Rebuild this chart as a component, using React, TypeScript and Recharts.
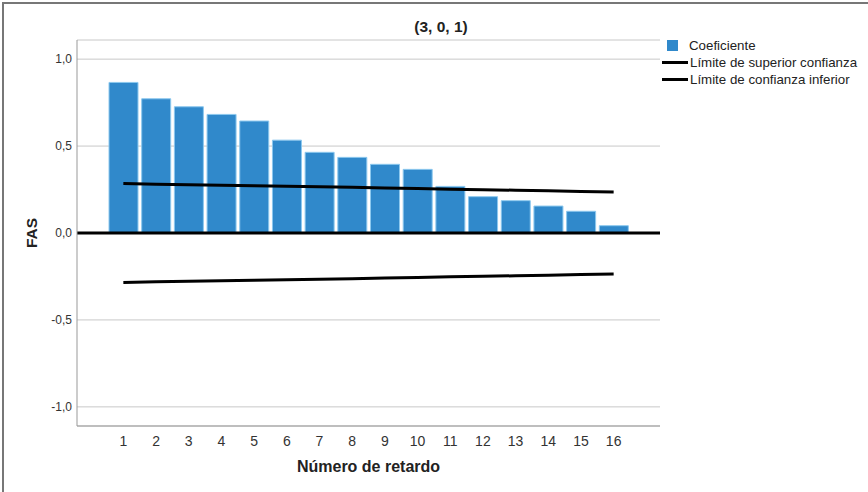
import React from "react";
import {
  ComposedChart,
  Bar,
  Line,
  XAxis,
  YAxis,
  CartesianGrid,
  ReferenceLine,
} from "recharts";

const lags = ["1", "2", "3", "4", "5", "6", "7", "8", "9", "10", "11", "12", "13", "14", "15", "16"];
const coef = [0.866, 0.772, 0.726, 0.682, 0.644, 0.534, 0.464, 0.435, 0.395, 0.366, 0.268, 0.209, 0.186, 0.155, 0.125, 0.042];
const upper = [0.284, 0.281, 0.278, 0.275, 0.272, 0.269, 0.266, 0.263, 0.259, 0.256, 0.252, 0.249, 0.246, 0.243, 0.239, 0.236];
const lower = [-0.284, -0.281, -0.278, -0.275, -0.272, -0.269, -0.266, -0.263, -0.259, -0.256, -0.252, -0.249, -0.246, -0.243, -0.239, -0.236];
const yTicks = [-1, -0.5, 0, 0.5, 1];

const data = lags.map((lag, i) => ({ lag, coef: coef[i], upper: upper[i], lower: lower[i] }));

const FONT = '"Liberation Sans", Arial, sans-serif';

const fmt = (v: number) => v.toFixed(1).replace(".", ",");

export default function App() {
  return (
    <div style={{ position: "absolute", left: 0, top: 0, width: 868, height: 492, background: "#fff", fontFamily: FONT }}>
      <div
        style={{
          position: "absolute",
          left: 2,
          top: 2,
          width: 866,
          height: 490,
          borderLeft: "2px solid #777",
          borderTop: "2px solid #777",
          boxSizing: "border-box",
        }}
      />
      <ComposedChart
        width={868}
        height={492}
        data={data}
        margin={{ top: 40, right: 208, left: 27, bottom: 36 }}
        barCategoryGap={2}
      >
        <CartesianGrid horizontal vertical={false} stroke="#c8c8c8" />
        <XAxis
          dataKey="lag"
          padding={{ left: 30, right: 30 }}
          height={30}
          tickLine={false}
          tickSize={8}
          tickMargin={2}
          axisLine={{ stroke: "#999" }}
          tick={{ fill: "#333", fontSize: 14, fontFamily: FONT }}
          interval={0}
        />
        <YAxis
          type="number"
          domain={[-1.11, 1.11]}
          ticks={yTicks}
          tickFormatter={fmt}
          width={50}
          tickLine={false}
          tickSize={3}
          tickMargin={2}
          axisLine={{ stroke: "#999" }}
          tick={{ fill: "#333", fontSize: 12, fontFamily: FONT }}
          allowDataOverflow
        />
        <Bar dataKey="coef" fill="#3089cb" stroke="#8cc8ee" strokeWidth={1} isAnimationActive={false} />
        <ReferenceLine y={0} stroke="#000" strokeWidth={3} />
        <Line dataKey="upper" stroke="#000" strokeWidth={3} dot={false} isAnimationActive={false} />
        <Line dataKey="lower" stroke="#000" strokeWidth={3} dot={false} isAnimationActive={false} />
      </ComposedChart>

      <div style={{ position: "absolute", left: 0, width: 868, top: 18, textAlign: "center", fontSize: 15.5, fontWeight: "bold", color: "#222", paddingLeft: 14, boxSizing: "border-box" }}>
        (3, 0, 1)
      </div>
      <div style={{ position: "absolute", left: 77, width: 583, top: 458, textAlign: "center", fontSize: 16, fontWeight: "bold", color: "#222" }}>
        Número de retardo
      </div>
      <div
        style={{
          position: "absolute",
          left: 32,
          top: 233,
          transform: "translate(-50%, -50%) rotate(-90deg)",
          fontSize: 15.5,
          fontWeight: "bold",
          color: "#222",
          whiteSpace: "nowrap",
        }}
      >
        FAS
      </div>

      <div style={{ position: "absolute", left: 662, top: 37, fontSize: 13.3, color: "#222", lineHeight: "17px" }}>
        <div style={{ display: "flex", alignItems: "center" }}>
          <span style={{ display: "inline-block", width: 11, height: 11, background: "#3089cb", marginLeft: 5, marginRight: 11 }} />
          Coeficiente
        </div>
        <div style={{ display: "flex", alignItems: "center" }}>
          <span style={{ display: "inline-block", width: 26, height: 3, background: "#000", marginRight: 2 }} />
          Límite de superior confianza
        </div>
        <div style={{ display: "flex", alignItems: "center" }}>
          <span style={{ display: "inline-block", width: 26, height: 3, background: "#000", marginRight: 2 }} />
          Límite de confianza inferior
        </div>
      </div>
    </div>
  );
}
